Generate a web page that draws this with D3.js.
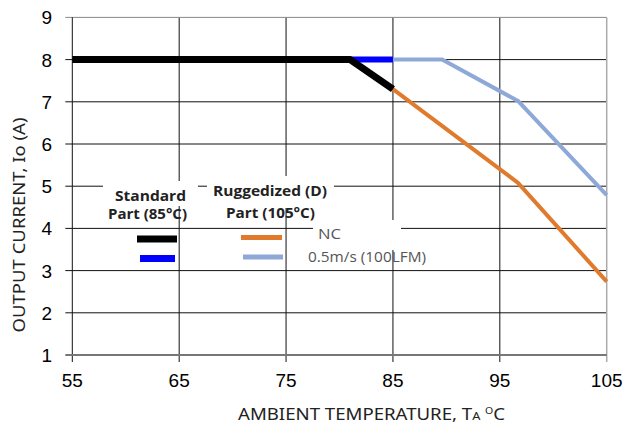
<!DOCTYPE html>
<html>
<head>
  <meta charset="utf-8">
  <title>Derating curve</title>
  <style>
    body { margin: 0; background: #fff; }
  </style>
</head>
<body>
  <svg width="628" height="433"></svg>
  <script src="https://cdn.jsdelivr.net/npm/d3@7"></script>
  <script>
  // data
  var xTicks = [55, 65, 75, 85, 95, 105];
  var yTicks = [1, 2, 3, 4, 5, 6, 7, 8, 9];
  var standardNC = [[55, 8], [81, 8], [85, 7.3]];
  var standardAir = [[81, 8], [85, 8]];
  var ruggedNC = [[85, 7.3], [96.7, 5.08], [105, 2.74]];
  var ruggedAir = [[85, 8], [89.6, 8], [96.7, 7.02], [105, 4.79]];

  var svg = d3.select("svg");
  var x = d3.scaleLinear().domain([55, 105]).range([72.3, 606.7]);
  var y = d3.scaleLinear().domain([1, 9]).range([355, 17.4]);

  // grid
  var grid = svg.append("g");
  grid.selectAll(".hg").data(yTicks.slice(1, -1)).enter().append("line")
    .attr("x1", x(55) - 7).attr("x2", x(105))
    .attr("y1", function(d) { return y(d); }).attr("y2", function(d) { return y(d); })
    .attr("stroke", "#111").attr("stroke-width", 1);
  grid.selectAll(".vg").data(xTicks.slice(1, -1)).enter().append("line")
    .attr("x1", function(d) { return x(d); }).attr("x2", function(d) { return x(d); })
    .attr("y1", y(9)).attr("y2", y(1) + 7)
    .attr("stroke", "#111").attr("stroke-width", 1);
  // frame
  grid.append("line").attr("x1", x(55) - 7).attr("x2", x(105)).attr("y1", y(9)).attr("y2", y(9))
    .attr("stroke", "#888").attr("stroke-width", 1);
  grid.append("line").attr("x1", x(105)).attr("x2", x(105)).attr("y1", y(9)).attr("y2", y(1) + 7)
    .attr("stroke", "#aaa").attr("stroke-width", 1.5);
  grid.append("line").attr("x1", x(55)).attr("x2", x(55)).attr("y1", y(9)).attr("y2", y(1) + 7)
    .attr("stroke", "#111").attr("stroke-width", 1);
  grid.append("line").attr("x1", x(55) - 7).attr("x2", x(105)).attr("y1", y(1)).attr("y2", y(1))
    .attr("stroke", "#777").attr("stroke-width", 2);

  // legend backgrounds hiding the grid
  svg.append("rect").attr("x", 103).attr("y", 181).attr("width", 95).attr("height", 25).attr("fill", "#fff");
  svg.append("rect").attr("x", 207).attr("y", 176).attr("width", 127).attr("height", 32).attr("fill", "#fff");
  svg.append("rect").attr("x", 313).attr("y", 220).attr("width", 88).attr("height", 30).attr("fill", "#fff");

  // tick labels
  svg.selectAll(".yl").data(yTicks).enter().append("text")
    .attr("x", 52).attr("y", function(d) { return y(d) + 7; })
    .attr("text-anchor", "end")
    .style("font-family", "Liberation Sans, Arial, sans-serif").style("font-size", "19px")
    .text(function(d) { return d; });
  svg.selectAll(".xl").data(xTicks).enter().append("text")
    .attr("x", function(d) { return x(d); }).attr("y", 387)
    .attr("text-anchor", "middle")
    .style("font-family", "Liberation Sans, Arial, sans-serif").style("font-size", "19px")
    .text(function(d) { return d; });

  // axis titles
  var xt = svg.append("text").attr("x", 238).attr("y", 420)
    .style("font-family", "Noto Sans, sans-serif").style("font-size", "16px").style("fill", "#222")
    .attr("textLength", 267).attr("lengthAdjust", "spacingAndGlyphs");
  xt.append("tspan").text("AMBIENT TEMPERATURE, T");
  xt.append("tspan").style("font-size", "11px").text("A");
  xt.append("tspan").attr("dx", 4).style("font-size", "9px").attr("dy", -6).text("O");
  xt.append("tspan").attr("dy", 6).text("C");

  svg.append("text").attr("transform", "translate(25,225) rotate(-90)")
    .attr("text-anchor", "middle")
    .style("font-family", "Noto Sans, sans-serif").style("font-size", "16px").style("fill", "#222")
    .attr("textLength", 215).attr("lengthAdjust", "spacingAndGlyphs")
    .text("OUTPUT CURRENT, Io  (A)");

  // curves
  var line = d3.line().x(function(d) { return x(d[0]); }).y(function(d) { return y(d[1]); });
  var series = [
    { data: ruggedAir, color: "#8EA9D8", w: 4 },
    { data: ruggedNC, color: "#E07B2E", w: 4 },
    { data: standardAir, color: "#0000FF", w: 6 },
    { data: standardNC, color: "#000000", w: 7 }
  ];
  svg.selectAll(".curve").data(series).enter().append("path")
    .attr("d", function(d) { return line(d.data); })
    .attr("fill", "none")
    .attr("stroke", function(d) { return d.color; })
    .attr("stroke-width", function(d) { return d.w; })
    .attr("stroke-linejoin", "round");

  // legend
  var bold = { "font-family": "Open Sans, sans-serif", "font-size": "15px", "font-weight": "bold", "fill": "#222" };
  var reg = { "font-family": "Open Sans, sans-serif", "font-size": "14.5px", "fill": "#555" };
  function label(tx, ty, s, style, len) {
    var t = svg.append("text").attr("x", tx).attr("y", ty)
      .attr("textLength", len).attr("lengthAdjust", "spacingAndGlyphs").text(s);
    for (var k in style) t.style(k, style[k]);
  }
  label(115, 201, "Standard", bold, 71);
  label(108, 219, "Part (85°C)", bold, 79);
  label(213, 196, "Ruggedized (D)", bold, 114);
  label(226, 218, "Part (105°C)", bold, 89);
  label(318, 239, "NC", reg, 23);
  label(308, 262, "0.5m/s (100LFM)", reg, 118);

  var keys = [
    { x1: 137, x2: 177, ky: 239, color: "#000000", w: 7 },
    { x1: 140, x2: 175, ky: 258.5, color: "#0000FF", w: 7 },
    { x1: 241, x2: 282, ky: 237.5, color: "#E07B2E", w: 5 },
    { x1: 243, x2: 283, ky: 257, color: "#8EA9D8", w: 5 }
  ];
  svg.selectAll(".key").data(keys).enter().append("line")
    .attr("x1", function(d) { return d.x1; }).attr("x2", function(d) { return d.x2; })
    .attr("y1", function(d) { return d.ky; }).attr("y2", function(d) { return d.ky; })
    .attr("stroke", function(d) { return d.color; })
    .attr("stroke-width", function(d) { return d.w; });
  </script>
</body>
</html>
